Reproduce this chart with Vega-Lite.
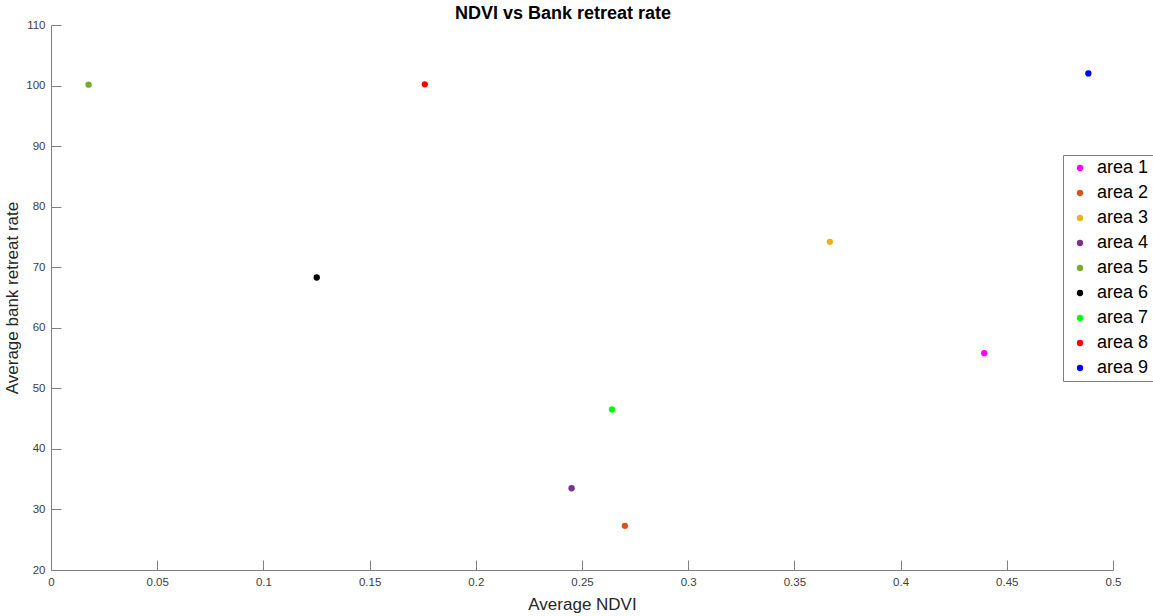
{
  "$schema": "https://vega.github.io/schema/vega-lite/v6.json",
  "autosize": "none",
  "width": 1062,
  "height": 545,
  "padding": {"left": 51, "top": 25, "right": 40, "bottom": 46},
  "background": "white",
  "title": {
    "text": "NDVI vs Bank retreat rate",
    "font": "Liberation Sans",
    "fontSize": 18,
    "fontWeight": "bold",
    "color": "#000000",
    "anchor": "middle",
    "frame": "group",
    "dx": -19,
    "offset": -4
  },
  "config": {
    "view": {"stroke": null},
    "font": "Liberation Sans"
  },
  "data": {
    "values": [
      {"area": "area 1", "ndvi": 0.4394, "rate": 55.8},
      {"area": "area 2", "ndvi": 0.2702, "rate": 27.3},
      {"area": "area 3", "ndvi": 0.3667, "rate": 74.2},
      {"area": "area 4", "ndvi": 0.2451, "rate": 33.5},
      {"area": "area 5", "ndvi": 0.0177, "rate": 100.15},
      {"area": "area 6", "ndvi": 0.1251, "rate": 68.3},
      {"area": "area 7", "ndvi": 0.2641, "rate": 46.5},
      {"area": "area 8", "ndvi": 0.176, "rate": 100.2},
      {"area": "area 9", "ndvi": 0.4884, "rate": 102.0}
    ]
  },
  "mark": {"type": "circle", "size": 40, "opacity": 1},
  "encoding": {
    "x": {
      "field": "ndvi",
      "type": "quantitative",
      "scale": {"domain": [0, 0.5], "nice": false, "zero": false},
      "axis": {
        "title": "Average NDVI",
        "values": [0, 0.05, 0.1, 0.15, 0.2, 0.25, 0.3, 0.35, 0.4, 0.45, 0.5],
        "format": ".2~f",
        "grid": false,
        "tickSize": -10,
        "labelPadding": 16,
        "labelFontSize": 11.5,
        "labelColor": "#404040",
        "domainColor": "#808080",
        "tickColor": "#808080",
        "titleFontSize": 17,
        "titleFontWeight": "normal",
        "titleColor": "#262626",
        "titlePadding": 9,
        "labelFlush": false
      }
    },
    "y": {
      "field": "rate",
      "type": "quantitative",
      "scale": {"domain": [20, 110], "nice": false, "zero": false},
      "axis": {
        "title": "Average bank retreat rate",
        "values": [20, 30, 40, 50, 60, 70, 80, 90, 100, 110],
        "grid": false,
        "tickSize": -10,
        "labelPadding": 16,
        "labelFontSize": 11.5,
        "labelColor": "#404040",
        "domainColor": "#808080",
        "tickColor": "#808080",
        "titleFontSize": 17,
        "titleFontWeight": "normal",
        "titleColor": "#262626",
        "titlePadding": 4,
        "labelFlush": false
      }
    },
    "color": {
      "field": "area",
      "type": "nominal",
      "scale": {
        "domain": ["area 1", "area 2", "area 3", "area 4", "area 5", "area 6", "area 7", "area 8", "area 9"],
        "range": ["#FF00FF", "#D95319", "#EDB120", "#7E2F8E", "#77AC30", "#000000", "#00FF00", "#FF0000", "#0000FF"]
      },
      "legend": {
        "title": null,
        "orient": "none",
        "legendX": 1012,
        "legendY": 130,
        "padding": 4,
        "strokeColor": "#808080",
        "fillColor": "white",
        "symbolType": "circle",
        "symbolSize": 40,
        "symbolOffset": 4,
        "symbolStrokeWidth": 0,
        "labelFontSize": 18,
        "labelColor": "#000000",
        "labelOffset": 8,
        "labelLimit": 300,
        "rowPadding": 7
      }
    }
  }
}
